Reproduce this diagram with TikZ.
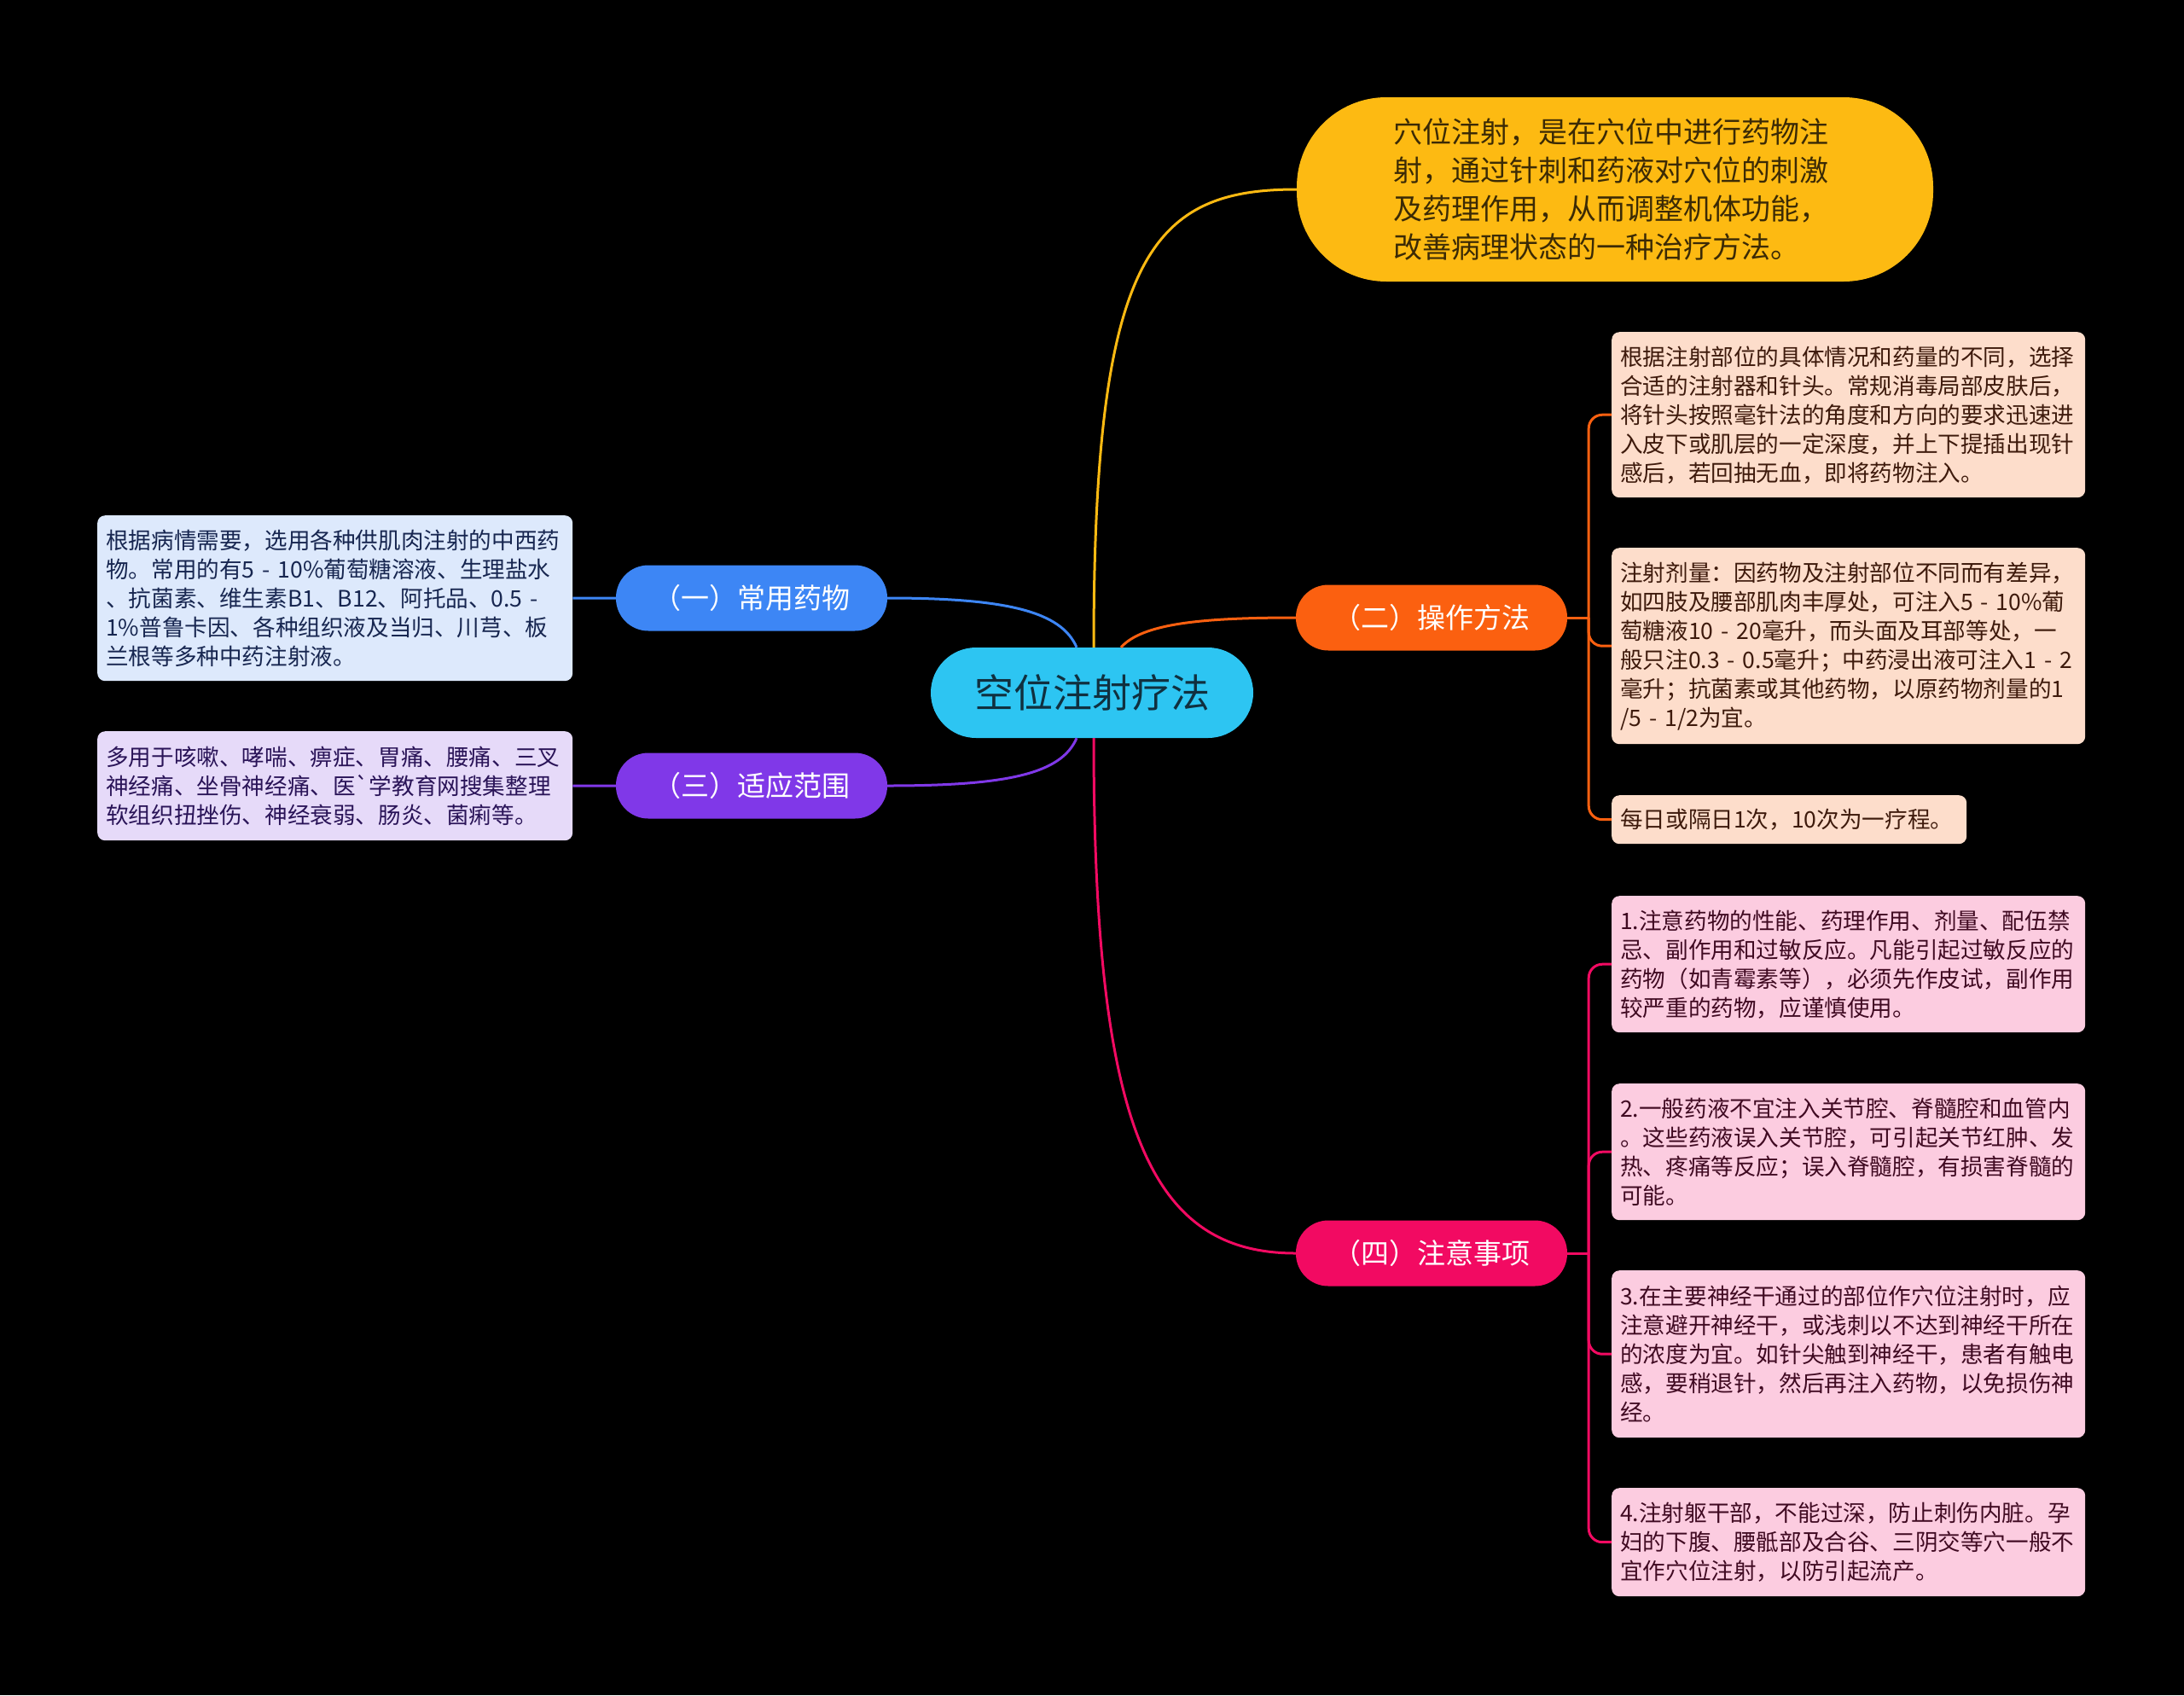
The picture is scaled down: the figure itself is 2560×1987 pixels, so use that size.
\documentclass[tikz,border=0pt]{standalone}
\usepackage{fontspec}
\setmainfont{Noto Sans CJK SC}
\definecolor{cyanC}{HTML}{2DC5F2}
\definecolor{centerT}{HTML}{10303F}
\definecolor{yellowC}{HTML}{FDBA12}
\definecolor{yellowT}{HTML}{3B2A05}
\definecolor{orangeC}{HTML}{FB6010}
\definecolor{blueC}{HTML}{3D86F5}
\definecolor{purpleC}{HTML}{8038E8}
\definecolor{pinkC}{HTML}{F20A62}
\definecolor{lbBox}{HTML}{DDE9FC}
\definecolor{lbT}{HTML}{172650}
\definecolor{lpBox}{HTML}{E6DAF9}
\definecolor{lpT}{HTML}{2A1458}
\definecolor{peachBox}{HTML}{FDDDCB}
\definecolor{peachT}{HTML}{3E1A0C}
\definecolor{pinkBox}{HTML}{FCCCE0}
\definecolor{pinkT}{HTML}{400A22}
\tikzset{
  leaf/.style 2 args={fill=#1, text=#2, rounded corners=9pt, inner xsep=10pt, inner ysep=0pt,
    align=left, anchor=north west, font=\fontsize{26.6}{34}\selectfont},
  branch/.style={fill=#1, text=white, rounded corners=38pt, minimum width=318pt,
    minimum height=77pt, inner sep=0pt, font=\fontsize{33}{38}\selectfont},
  link/.style={draw=#1, line width=3pt},
}
\begin{document}
\begin{tikzpicture}[x=1pt, y=-1pt]
\useasboundingbox (0,0) rectangle (2560,1987);
\fill[black] (0,0) rectangle (2560,1987);

% root
\node[fill=cyanC, text=centerT, rounded corners=53pt, minimum width=378pt, minimum height=106pt,
      inner sep=0pt, font=\fontsize{46}{50}\selectfont] (c) at (1280,812) {空位注射疗法};

% summary
\node[fill=yellowC, text=yellowT, rounded corners=105pt, minimum width=746pt, minimum height=216pt,
      text width=520pt, align=left, inner sep=0pt, font=\fontsize{34}{45}\selectfont] (y) at (1893,222)
  {穴位注射，是在穴位中进行药物注\\射，通过针刺和药液对穴位的刺激\\及药理作用，从而调整机体功能，\\改善病理状态的一种治疗方法。};

% branches
\node[branch=blueC] (b) at (881,701) {（一）常用药物};
\node[branch=purpleC] (pu) at (881,921) {（三）适应范围};
\node[branch=orangeC] (o) at (1678,724) {（二）操作方法};
\node[branch=pinkC] (p) at (1678,1469) {（四）注意事项};

% left leaves
\node[leaf={lbBox}{lbT}, text width=537pt, minimum height=194pt] (l1) at (114,604)
  {根据病情需要，选用各种供肌肉注射的中西药\\物。常用的有5 - 10\%葡萄糖溶液、生理盐水\\、抗菌素、维生素B1、B12、阿托品、0.5 -\\1\%普鲁卡因、各种组织液及当归、川芎、板\\兰根等多种中药注射液。};
\node[leaf={lpBox}{lpT}, text width=537pt, minimum height=128pt] (l2) at (114,857)
  {多用于咳嗽、哮喘、痹症、胃痛、腰痛、三叉\\神经痛、坐骨神经痛、医{\textasciigrave}学教育网搜集整理\\软组织扭挫伤、神经衰弱、肠炎、菌痢等。};

% right leaves (operation)
\node[leaf={peachBox}{peachT}, text width=535pt, minimum height=194pt] (r1) at (1889,389)
  {根据注射部位的具体情况和药量的不同，选择\\合适的注射器和针头。常规消毒局部皮肤后，\\将针头按照毫针法的角度和方向的要求迅速进\\入皮下或肌层的一定深度，并上下提插出现针\\感后，若回抽无血，即将药物注入。};
\node[leaf={peachBox}{peachT}, text width=535pt, minimum height=230pt] (r2) at (1889,642)
  {注射剂量：因药物及注射部位不同而有差异，\\如四肢及腰部肌肉丰厚处，可注入5 - 10\%葡\\萄糖液10 - 20毫升，而头面及耳部等处，一\\般只注0.3 - 0.5毫升；中药浸出液可注入1 - 2\\毫升；抗菌素或其他药物，以原药物剂量的1\\/5 - 1/2为宜。};
\node[leaf={peachBox}{peachT}, text width=396pt, minimum height=57pt] (r3) at (1889,932)
  {每日或隔日1次，10次为一疗程。};

% right leaves (cautions)
\node[leaf={pinkBox}{pinkT}, text width=535pt, minimum height=160pt] (p1) at (1889,1050)
  {1.注意药物的性能、药理作用、剂量、配伍禁\\忌、副作用和过敏反应。凡能引起过敏反应的\\药物（如青霉素等），必须先作皮试，副作用\\较严重的药物，应谨慎使用。};
\node[leaf={pinkBox}{pinkT}, text width=535pt, minimum height=160pt] (p2) at (1889,1270)
  {2.一般药液不宜注入关节腔、脊髓腔和血管内\\。这些药液误入关节腔，可引起关节红肿、发\\热、疼痛等反应；误入脊髓腔，有损害脊髓的\\可能。};
\node[leaf={pinkBox}{pinkT}, text width=535pt, minimum height=196pt] (p3) at (1889,1489)
  {3.在主要神经干通过的部位作穴位注射时，应\\注意避开神经干，或浅刺以不达到神经干所在\\的浓度为宜。如针尖触到神经干，患者有触电\\感，要稍退针，然后再注入药物，以免损伤神\\经。};
\node[leaf={pinkBox}{pinkT}, text width=535pt, minimum height=127pt] (p4) at (1889,1744)
  {4.注射躯干部，不能过深，防止刺伤内脏。孕\\妇的下腹、腰骶部及合谷、三阴交等穴一般不\\宜作穴位注射，以防引起流产。};

% connector anchor points on root
\coordinate (cn) at ([xshift=2pt]c.north);
\coordinate (cnl) at ([xshift=-18pt]c.north);
\coordinate (cnr) at ([xshift=34pt]c.north);
\coordinate (cs) at ([xshift=2pt]c.south);
\coordinate (csl) at ([xshift=-18pt]c.south);
\coordinate (jo) at ([xshift=25pt]o.east);
\coordinate (jp) at ([xshift=25pt]p.east);

% root connectors
\draw[link=yellowC] (cn) .. controls +(0,-460) and +(-170,0) .. (y.west);
\draw[link=pinkC] (cs) .. controls +(0,460) and +(-170,0) .. (p.west);
\draw[link=orangeC] (cnr) .. controls +(25,-28) and +(-110,0) .. (o.west);
\draw[link=blueC] (cnl) .. controls +(-18,-42) and +(140,0) .. (b.east);
\draw[link=purpleC] (csl) .. controls +(-18,42) and +(140,0) .. (pu.east);

% left connectors
\draw[link=blueC] (b.west) -- (l1.east);
\draw[link=purpleC] (pu.west) -- (l2.east);

% right brackets
\draw[link=orangeC] (o.east) -- (jo);
\draw[link=orangeC, rounded corners=16pt] (jo) |- (r1.west);
\draw[link=orangeC, rounded corners=16pt] (jo) |- (r2.west);
\draw[link=orangeC, rounded corners=16pt] (jo) |- (r3.west);
\draw[link=pinkC] (p.east) -- (jp);
\draw[link=pinkC, rounded corners=16pt] (jp) |- (p1.west);
\draw[link=pinkC, rounded corners=16pt] (jp) |- (p2.west);
\draw[link=pinkC, rounded corners=16pt] (jp) |- (p3.west);
\draw[link=pinkC, rounded corners=16pt] (jp) |- (p4.west);
\end{tikzpicture}
\end{document}
